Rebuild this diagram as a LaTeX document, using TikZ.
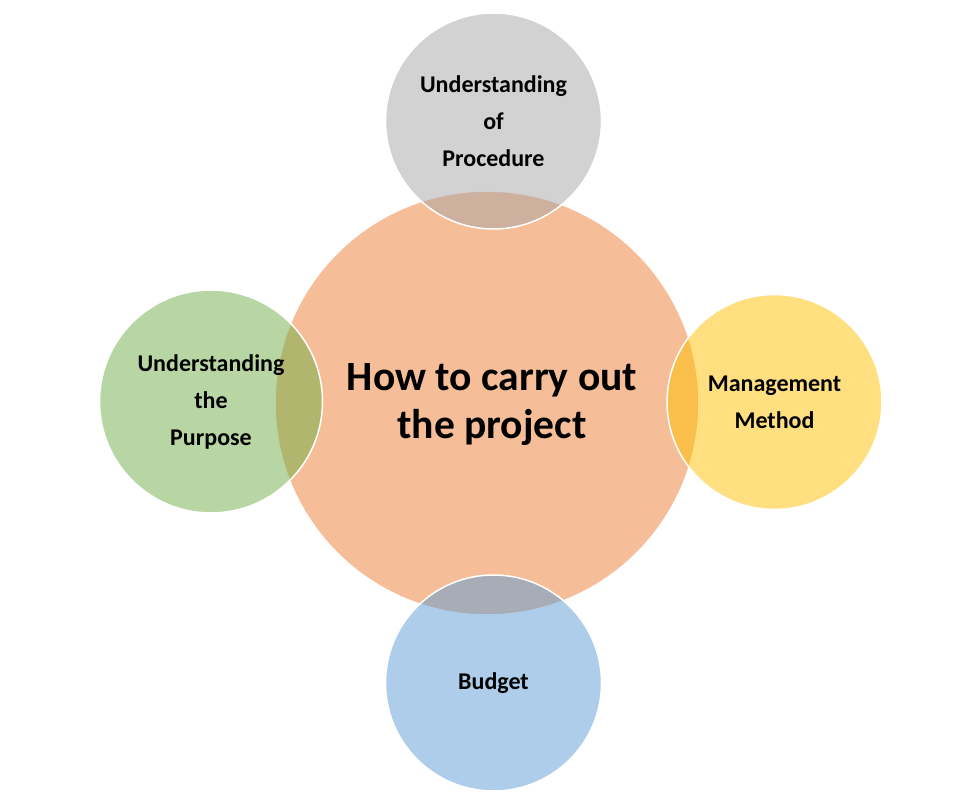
\documentclass[tikz,border=0pt]{standalone}
\usepackage{fontspec}
\setmainfont{Carlito}
\definecolor{accOrange}{HTML}{ED7D31}
\definecolor{accGrey}{HTML}{A5A5A5}
\definecolor{accGreen}{HTML}{70AD47}
\definecolor{accYellow}{HTML}{FFC000}
\definecolor{accBlue}{HTML}{5B9BD5}
\tikzset{
  bubble/.style={circle, inner sep=0pt, draw=white, line width=1.5pt,
    fill opacity=0.5, text opacity=1, align=center,
    font=\fontsize{24}{37}\selectfont\bfseries},
  centertext/.style={align=center, inner sep=0pt,
    font=\fontsize{41.6}{48}\selectfont\bfseries}
}
\begin{document}
\begin{tikzpicture}[x=1pt,y=-1pt]
\useasboundingbox (0,0) rectangle (962,797);
\node[bubble, fill=accOrange, minimum size=424pt] (hub) at (487,403) {};
\node[centertext] (hubtext) at (492,405) {How to carry out\\the project};
\node[bubble, fill=accGrey, minimum size=216pt] (proc) at (493.5,121) {Understanding\\of\\Procedure};
\node[bubble, fill=accGreen, minimum size=223pt] (purp) at (211,401.5) {Understanding\\the\\Purpose};
\node[bubble, fill=accYellow, minimum size=215pt] (mgmt) at (774.5,402) {Management\\Method};
\node[bubble, fill=accBlue, minimum size=216pt] (budg) at (493.5,683) {Budget};
\end{tikzpicture}
\end{document}
